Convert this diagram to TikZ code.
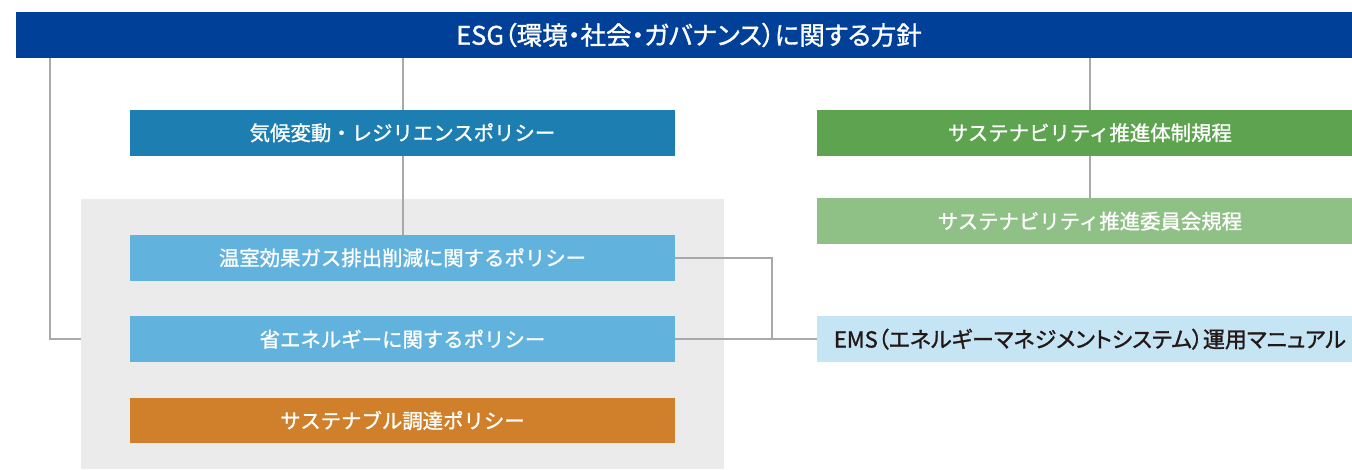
\documentclass[tikz,border=0pt]{standalone}
\usepackage{fontspec}
\newfontfamily\jpfont[FakeBold=1.2]{Noto Sans CJK JP}
\newfontfamily\jppaltfont[FakeBold=1.2,RawFeature=+palt]{Noto Sans CJK JP}
\usetikzlibrary{positioning}
\definecolor{esgblue}{HTML}{004098}
\definecolor{climateblue}{HTML}{1D7FB1}
\definecolor{policyblue}{HTML}{61B2DD}
\definecolor{procureorange}{HTML}{D0802A}
\definecolor{rulegreen}{HTML}{5EA450}
\definecolor{rulelightgreen}{HTML}{8FC186}
\definecolor{emsblue}{HTML}{C5E4F4}
\definecolor{panelgray}{HTML}{EBEBEB}
\definecolor{linegray}{HTML}{A9A9A9}
\definecolor{emstext}{HTML}{231815}
\begin{document}
\begin{tikzpicture}[x=1pt,y=-1pt,inner sep=0pt,font=\jpfont\fontsize{20.4}{24}\selectfont]
\tikzstyle{box}=[rectangle,minimum width=545pt,minimum height=45.5pt,text=white]
\tikzstyle{policy}=[box,fill=policyblue]
\tikzstyle{rule}=[box,fill=rulegreen]
\tikzstyle{link}=[draw=linegray,line width=2pt]
\useasboundingbox (0,0) rectangle (1352,469);
\clip (0,0) rectangle (1352,469);
\node[fill=panelgray,minimum width=643pt,minimum height=270pt] (panel) at (402.5,334) {};
\node[box,fill=esgblue,minimum width=1346pt,minimum height=46pt,font=\jppaltfont\fontsize{25.5}{29}\selectfont] (esg) at (689,35) {ESG（環境・社会・ガバナンス）に関する方針};
\node[box,fill=climateblue] (climate) at (402.5,132.75) {気候変動・レジリエンスポリシー};
\node[policy] (ghg) at (402.5,257.75) {温室効果ガス排出削減に関するポリシー};
\node[policy] (energy) [below=35.5pt of ghg] {省エネルギーに関するポリシー};
\node[box,fill=procureorange] (procure) [below=35.5pt of energy] {サステナブル調達ポリシー};
\node[rule] (system) [right=142pt of climate] {サステナビリティ推進体制規程};
\node[rule,fill=rulelightgreen] (committee) [below=42.5pt of system] {サステナビリティ推進委員会規程};
\node[box,fill=emsblue,text=emstext,font=\jppaltfont\fontsize{22}{26}\selectfont] (ems) [right=142pt of energy] {EMS（エネルギーマネジメントシステム）運用マニュアル};
\coordinate (lbend) at (50,339);
\coordinate[right=97pt of energy.east] (jn);

\path (climate.north |- esg.south) edge[link] (climate.north);
\path (climate.south) edge[link] (ghg.north);

\path (system.north |- esg.south) edge[link] (system.north);
\path (system.south) edge[link] (committee.north);

\draw[link] (esg.south -| lbend) |- (panel.west |- lbend);
\draw[link] (ghg.east) -| (jn);
\path (energy.east) edge[link] (ems.west);
\end{tikzpicture}
\end{document}
